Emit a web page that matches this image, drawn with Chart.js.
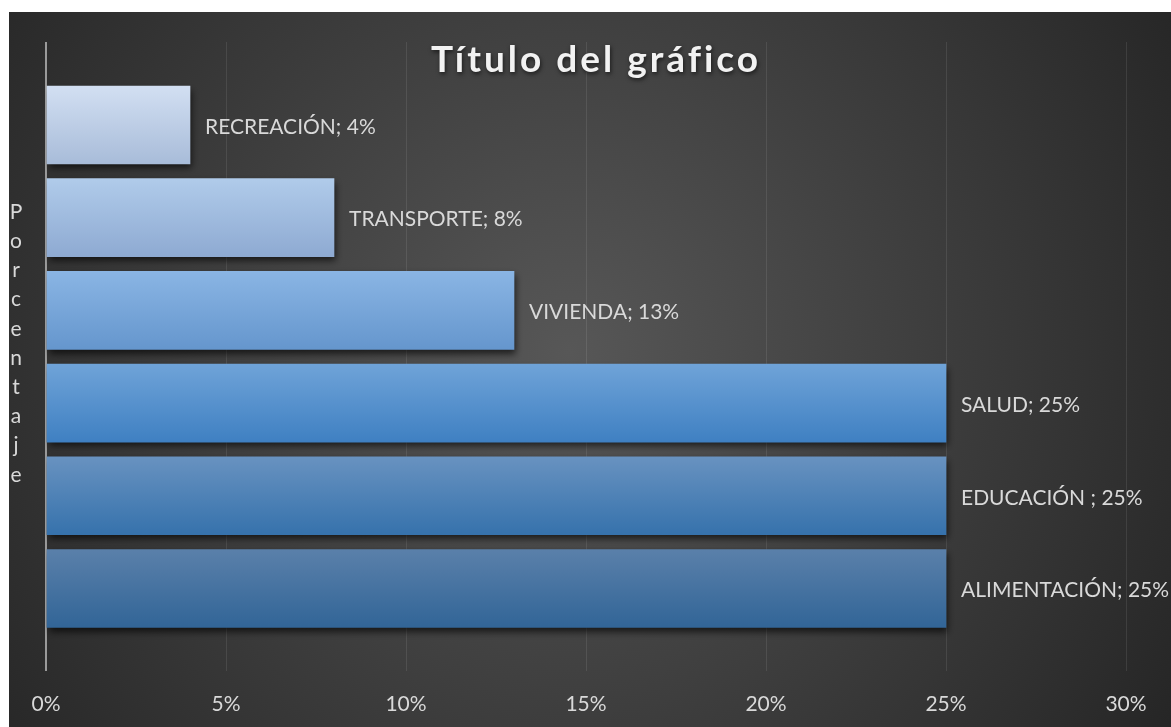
<!DOCTYPE html>
<html>
<head>
<meta charset="utf-8">
<script src="https://cdn.jsdelivr.net/npm/chart.js@4"></script>
<style>
  html, body { margin: 0; padding: 0; background: #ffffff; }
  #wrap { position: absolute; left: 9px; top: 12px; width: 1162px; height: 715px; }
</style>
</head>
<body>
<div id="wrap"><canvas id="gastos"></canvas></div>
<script>
// datos del gráfico (de arriba hacia abajo)
var categorias = ['RECREACIÓN', 'TRANSPORTE', 'VIVIENDA', 'SALUD', 'EDUCACIÓN ', 'ALIMENTACIÓN'];
var porcentajes = [4, 8, 13, 25, 25, 25];
var ticksX = [0, 5, 10, 15, 20, 25, 30];
var tituloGrafico = 'Título del gráfico';
var tituloEje = 'Porcentaje';

// colores degradado por barra: [arriba, abajo]
var coloresArriba = ['#d2dff2', '#b0cbea', '#8ab5e4', '#6fa3d8', '#6892c0', '#5a80aa'];
var coloresAbajo = ['#a8bcd9', '#8eaad2', '#6596cd', '#3f80c2', '#3672ac', '#326597'];

var grosorBarra = 78;
var fuente = 'Lato, "DejaVu Sans", sans-serif';

function colorBarra(ctx) {
  var chart = ctx.chart;
  var i = ctx.dataIndex;
  if (!chart.chartArea || i === undefined) return coloresArriba[i || 0];
  var yc = chart.scales.y.getPixelForValue(i);
  var g = chart.ctx.createLinearGradient(0, yc - grosorBarra / 2, 0, yc + grosorBarra / 2);
  g.addColorStop(0, coloresArriba[i]);
  g.addColorStop(1, coloresAbajo[i]);
  return g;
}

var fondoPlugin = {
  id: 'fondo',
  beforeDraw: function(chart) {
    var c = chart.ctx;
    var g = c.createRadialGradient(560, 340, 0, 560, 340, 720);
    g.addColorStop(0, '#575757');
    g.addColorStop(1, '#252525');
    c.save();
    c.fillStyle = g;
    c.fillRect(0, 0, chart.width, chart.height);
    c.restore();
  }
};

var sombraPlugin = {
  id: 'sombra',
  beforeDatasetsDraw: function(chart) {
    var c = chart.ctx;
    c.save();
    c.shadowColor = 'rgba(0,0,0,0.65)';
    c.shadowBlur = 7;
    c.shadowOffsetX = 2;
    c.shadowOffsetY = 4;
  },
  afterDatasetsDraw: function(chart) {
    chart.ctx.restore();
  }
};

var textosPlugin = {
  id: 'textos',
  afterDraw: function(chart) {
    var c = chart.ctx;
    c.save();
    // etiquetas de datos
    c.fillStyle = '#d9d9d9';
    c.font = '21px ' + fuente;
    c.textAlign = 'left';
    c.textBaseline = 'middle';
    chart.getDatasetMeta(0).data.forEach(function(bar, i) {
      c.fillText(categorias[i] + '; ' + porcentajes[i] + '%', bar.x + 15, bar.y + 2);
    });
    // titulo del eje vertical, letra por letra
    c.textAlign = 'center';
    tituloEje.split('').forEach(function(ch, i) {
      c.fillText(ch, 7, 200 + i * 29.2);
    });
    // titulo
    c.font = 'bold 37px ' + fuente;
    c.letterSpacing = '3px';
    c.textBaseline = 'alphabetic';
    c.shadowColor = 'rgba(0,0,0,0.6)';
    c.shadowBlur = 4;
    c.shadowOffsetX = 1;
    c.shadowOffsetY = 2;
    c.fillStyle = '#f2f2f2';
    c.fillText(tituloGrafico, 587, 60);
    c.restore();
  }
};

var ctx = document.getElementById('gastos').getContext('2d');
new Chart(ctx, {
  type: 'bar',
  data: {
    datasets: [{
      data: porcentajes.map(function(v, i) { return { x: v, y: i }; }),
      backgroundColor: colorBarra,
      borderWidth: 0,
      barThickness: grosorBarra
    }]
  },
  options: {
    indexAxis: 'y',
    responsive: true,
    maintainAspectRatio: false,
    animation: false,
    layout: { padding: { left: 37, right: 45, top: 30, bottom: 0 } },
    plugins: {
      legend: { display: false },
      title: { display: false },
      tooltip: { enabled: false }
    },
    scales: {
      x: {
        type: 'linear',
        min: 0,
        max: 30,
        afterBuildTicks: function(scale) {
          scale.ticks = ticksX.map(function(v) { return { value: v }; });
        },
        afterFit: function(scale) { scale.height = 56; },
        grid: {
          drawTicks: false,
          color: function(c) { return c.tick && c.tick.value === 0 ? '#9a9a9a' : 'rgba(255,255,255,0.09)'; },
          lineWidth: function(c) { return c.tick && c.tick.value === 0 ? 2 : 1; }
        },
        border: { display: false },
        ticks: {
          color: '#d9d9d9',
          font: { family: fuente, size: 21 },
          padding: 21,
          callback: function(v) { return v + '%'; }
        }
      },
      y: {
        type: 'linear',
        reverse: true,
        offset: false,
        min: -0.895,
        max: 5.89,
        display: false
      }
    }
  },
  plugins: [fondoPlugin, sombraPlugin, textosPlugin]
});
</script>
</body>
</html>
